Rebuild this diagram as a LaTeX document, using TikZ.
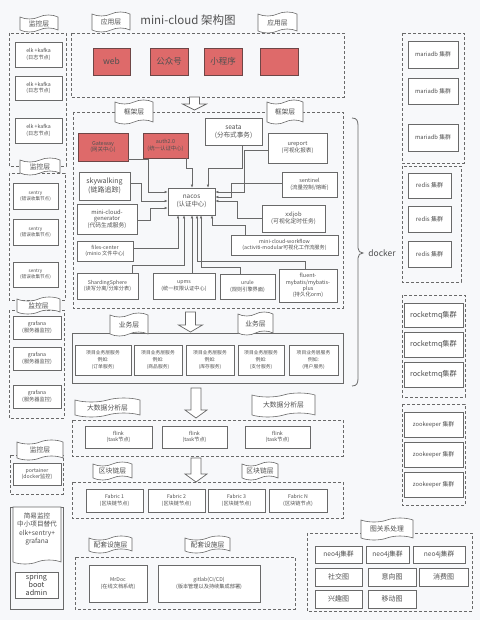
\documentclass[tikz,border=0pt]{standalone}
\usepackage{fontspec}
\setmainfont{Noto Sans CJK SC}
\usetikzlibrary{shapes.symbols,arrows.meta}
\definecolor{bgc}{RGB}{247,248,250}
\definecolor{lc}{RGB}{105,105,105}
\definecolor{tc}{RGB}{80,80,80}
\definecolor{redf}{RGB}{222,106,106}
\definecolor{redd}{RGB}{110,70,70}
\newcommand\fsz[2]{\fontsize{#1}{#2}\selectfont}
\tikzset{
  box/.style={draw=lc, fill=white, line width=0.6pt, inner sep=0pt, align=center, text=tc, font=\fsz{5.2}{6.4}},
  redbox/.style={box, fill=redf, draw=redd},
  dbox/.style={draw=lc, dash pattern=on 3pt off 2pt, line width=0.8pt},
  sbox/.style={draw=lc, line width=0.8pt},
  conn/.style={draw=lc, line width=0.6pt, -{Latex[length=3pt,width=2.6pt]}},
  flag/.style={tape, draw=lc, fill=white, line width=0.6pt, tape bend top=in and out, tape bend bottom=in and out, tape bend height=4pt, inner sep=0pt, align=center, font=\fsz{6.8}{8}, text=tc},
  harrow/.style={draw=lc, fill=white, line width=0.7pt},
}
% [style]{x1}{y1}{x2}{y2}{name}{text}
\newcommand\bx[7][]{\node[box,#1,minimum width=#4pt-#2pt,minimum height=#5pt-#3pt] (#6) at ({(#2+#4)/2},{(#3+#5)/2}) {#7};}
\newcommand\fl[7][]{\node[flag,#1,minimum width=#4pt-#2pt,minimum height=#5pt-#3pt] (#6) at ({(#2+#4)/2},{(#3+#5)/2}) {};\node[text=tc,font=\fsz{6.8}{8}] (#6t) at (#6.center) {#7};}
% {cx}{ytop}{ybot}{shaft half}{head half}{head len}
\newcommand\harr[6]{\draw[harrow] (#1-#4,#2) -- (#1+#4,#2) -- (#1+#4,#3-#6) -- (#1+#5,#3-#6) -- (#1,#3) -- (#1-#5,#3-#6) -- (#1-#4,#3-#6) -- cycle;}
\begin{document}
\begin{tikzpicture}[x=1pt,y=-1pt]
\useasboundingbox (0,0) rectangle (480,620);
\fill[bgc] (0,0) rectangle (480,620);

% ---------- title
\node[text=tc,font=\fsz{11.5}{13}] (title) at (188,20) {mini-cloud 架构图};

% ---------- left monitoring column
\draw[dbox] (9,33) rectangle (66,166);
\draw[dbox] (9,173) rectangle (65,300);
\draw[dbox] (9,310) rectangle (64,418);
\draw[dbox] (10,455) rectangle (63,494);
\draw[sbox] (10,507) rectangle (63,609);
\bx{15}{42}{62}{67}{elk1}{elk +kafka\\(日志节点)}
\bx{15}{76}{62}{100}{elk2}{elk +kafka\\(日志节点)}
\bx{15}{118}{62}{143}{elk3}{elk +kafka\\(日志节点)}
\bx[font=\fsz{4.6}{6}]{13}{183}{58}{209}{sen1}{sentry\\(错误收集节点)}
\bx[font=\fsz{4.6}{6}]{13}{219}{58}{245}{sen2}{sentry\\(错误收集节点)}
\bx[font=\fsz{4.6}{6}]{13}{262}{58}{287}{sen3}{sentry\\(错误收集节点)}
\bx{13}{316}{61}{339}{gra1}{grafana\\(服务器监控)}
\bx{13}{347}{61}{370}{gra2}{grafana\\(服务器监控)}
\bx{13}{385}{61}{408}{gra3}{grafana\\(服务器监控)}
\bx{13}{463}{61}{485}{port}{portainer\\(docker监控)}
\node[flag,tape bend top=none,minimum width=48pt,minimum height=57pt] (simple) at (37,533.5) {};
\node[text=tc,align=center,font=\fsz{6.6}{8.2}] (simplet) at (37,529) {简易监控\\中小项目替代\\elk+sentry+\\grafana};
\bx[font=\fsz{7.2}{8.2},text=black!75]{15}{572}{58}{598}{spring}{spring\\boot\\admin}
\fl{20}{15}{58}{32}{fm1}{监控层}
\fl{20}{158}{60}{175}{fm2}{监控层}
\fl{17}{297}{60}{314}{fm3}{监控层}
\fl{17}{440}{63}{460}{fm4}{监控层}

% ---------- application layer
\draw[dbox] (71,33) rectangle (344,97);
\fl{92}{12}{130}{32}{fa1}{应用层}
\fl{258}{12}{297}{33}{fa2}{应用层}
\bx[redbox,font=\fsz{8.5}{10}]{93}{48}{130}{75}{web}{web}
\bx[redbox,font=\fsz{8.5}{10}]{150}{48}{188}{75}{gzh}{公众号}
\bx[redbox,font=\fsz{8.5}{10}]{204}{48}{242}{75}{xcx}{小程序}
\bx[redbox,font=\fsz{8.5}{10}]{260}{48}{298}{75}{app}{}
\harr{194.5}{97}{110}{5}{12}{6}

% ---------- framework layer
\draw[dbox] (73,112) rectangle (343,308);
\fl{115}{100}{153}{124}{ff1}{框架层}
\fl{267}{100}{303}{124}{ff2}{框架层}
\bx[redbox,font=\fsz{5.4}{6.6}]{78}{133}{128}{161}{gw}{Gateway\\(网关中心)}
\bx[redbox,font=\fsz{5.4}{6.6}]{143}{133}{188}{158}{auth}{auth2.0\\(统一认证中心)}
\bx[font=\fsz{6.6}{8}]{205}{118}{262}{145}{seata}{seata\\(分布式事务)}
\bx[font=\fsz{5.6}{7}]{268}{133}{327}{163}{urep}{ureport\\(可视化报表)}
\bx[font=\fsz{7}{8.4}]{79}{172}{130}{200}{sky}{skywalking\\(链路追踪)}
\bx[font=\fsz{6.4}{7.8}]{168}{188}{215}{215}{nacos}{nacos\\(认证中心)}
\bx[font=\fsz{5.4}{6.6}]{282}{172}{337}{197}{sent}{sentinel\\(流量控制/熔断)}
\bx[font=\fsz{5.8}{6.6}]{77}{204}{137}{234}{gen}{mini-cloud-\\generator\\(代码生成服务)}
\bx[font=\fsz{5.8}{7}]{262}{205}{325}{232}{xxl}{xxljob\\(可视化定时任务)}
\bx{77}{241}{133}{261}{files}{files-center\\(minio 文件中心)}
\bx{231}{235}{338}{255}{wf}{mini-cloud-workflow\\(activiti-modular可视化工作流服务)}
\bx{77}{273}{138}{299}{shard}{ShardingSphere\\(读写分离/分库分表)}
\bx{153}{273}{215}{299}{upms}{upms\\(统一权限认证中心)}
\bx{220}{274}{275}{299}{urule}{urule\\(规则引擎界面)}
\bx[font=\fsz{5.4}{6.3}]{279}{269}{337}{302}{fluent}{fluent-\\mybatis/mybatis-\\plus\\(持久化orm)}

% connectors into nacos
\draw[conn] (gw.east |- 0,159) -| (148,192) -- (nacos.west |- 0,192);
\draw[conn] (sky.east |- 0,183) -| (141,201) -- (nacos.west |- 0,201);
\draw[conn] (gen.east |- 0,220) -| (150,208) -- (nacos.west |- 0,208);
\draw[conn] (auth.south -| 186,0) |- (192,168) -- (nacos.north -| 192,0);
\draw[conn] (seata.south -| 242,0) |- (208,168) -- (nacos.north -| 208,0);
\draw[conn] (urep.west |- 0,150) -| (244,192) -- (nacos.east |- 0,192);
\draw[conn] (sent.west |- 0,183) -| (231,197) -- (nacos.east |- 0,197);
\draw[conn] (xxl.west |- 0,218) -| (237,201) -- (nacos.east |- 0,201);
\draw[conn] (files.east |- 0,248) -| (nacos.south -| 178,0);
\draw[conn] (shard.north -| 132,0) |- (184,265) -- (nacos.south -| 184,0);
\draw[conn] (upms.north -| 192,0) -- (nacos.south -| 192,0);
\draw[conn] (fluent.north -| 305,0) |- (197,261) -- (nacos.south -| 197,0);
\draw[conn] (urule.north -| 240,0) |- (201,267) -- (nacos.south -| 201,0);
\draw[conn] (wf.north -| 245,0) |- (212,225) -- (nacos.south -| 212,0);

% docker brace
\draw[lc,line width=0.8pt] (352,118) .. controls (357,118) and (358,121) .. (358,126) -- (358,248) .. controls (358,251) and (360,253) .. (363,253) .. controls (360,253) and (358,255) .. (358,258) -- (358,378) .. controls (358,383) and (357,386) .. (352,386);
\node[text=tc,font=\fsz{8.5}{10}] (docker) at (382,253) {docker};

% ---------- business layer
\harr{190.5}{312}{332}{5}{12}{7}
\draw[sbox] (72,333) rectangle (343,383);
\fl{110}{313}{148}{336}{fb1}{业务层}
\fl{238}{312}{273}{335}{fb2}{业务层}
\bx[font=\fsz{4.8}{6.8}]{75}{345}{131}{375}{biz1}{项目业务层服务\\例如:\\(订单服务)}
\bx[font=\fsz{4.8}{6.8}]{134}{345}{182}{375}{biz2}{项目业务层服务\\例如:\\(商品服务)}
\bx[font=\fsz{4.8}{6.8}]{186}{345}{234}{375}{biz3}{项目业务层服务\\例如:\\(库存服务)}
\bx[font=\fsz{4.8}{6.8}]{238}{345}{284}{375}{biz4}{项目业务层服务\\例如:\\(支付服务)}
\bx[font=\fsz{4.8}{6.8}]{289}{345}{338}{375}{biz5}{项目业务层服务\\例如:\\(用户服务)}

% ---------- big data layer
\harr{196}{388}{418}{5}{11}{8}
\draw[dbox] (72,420) rectangle (343,456);
\fl{75}{398}{140}{417}{fd1}{大数据分析层}
\fl{252}{393}{315}{417}{fd2}{大数据分析层}
\bx{85}{426}{152}{448}{fl1}{flink\\(task节点)}
\bx{162}{426}{227}{448}{fl2}{flink\\(task节点)}
\bx{245}{426}{310}{448}{fl3}{flink\\(task节点)}

% ---------- blockchain layer
\harr{196}{458}{482}{5}{11}{8}
\draw[dbox] (72,482) rectangle (343,518);
\fl{93}{462}{132}{480}{fc1}{区块链层}
\fl{242}{462}{278}{480}{fc2}{区块链层}
\bx{86}{489}{143}{512}{fab1}{Fabric 1\\(区块链节点)}
\bx{148}{489}{205}{512}{fab2}{Fabric 2\\(区块链节点)}
\bx{208}{489}{265}{512}{fab3}{Fabric 3\\(区块链节点)}
\bx{269}{489}{327}{512}{fab4}{Fabric N\\(区块链节点)}

% ---------- support layer
\draw[dbox] (75,557) rectangle (295,609);
\fl{89}{536}{132}{553}{fs1}{配套设施层}
\fl{185}{536}{230}{553}{fs2}{配套设施层}
\bx{89}{565}{147}{602}{mrdoc}{MrDoc\\(在线文档系统)}
\bx{158}{565}{260}{602}{gitlab}{gitlab(CI/CD)\\(版本管理以及持续集成部署)}

% ---------- right column
\draw[dbox] (402,33) rectangle (464,163);
\bx[font=\fsz{5.8}{7}]{408}{41}{458}{68}{ma1}{mariadb 集群}
\bx[font=\fsz{5.8}{7}]{408}{78}{458}{104}{ma2}{mariadb 集群}
\bx[font=\fsz{5.8}{7}]{408}{124}{458}{151}{ma3}{mariadb 集群}
\draw[dbox] (402,166) rectangle (461,282);
\bx[font=\fsz{6}{7}]{408}{173}{451}{198}{re1}{redis 集群}
\bx[font=\fsz{6}{7}]{408}{206}{451}{232}{re2}{redis 集群}
\bx[font=\fsz{6}{7}]{408}{241}{451}{267}{re3}{redis 集群}
\draw[dbox] (402,295) rectangle (465,397);
\bx[font=\fsz{7.2}{8}]{404}{303}{463}{327}{rm1}{rocketmq集群}
\bx[font=\fsz{7.2}{8}]{404}{332}{463}{357}{rm2}{rocketmq集群}
\bx[font=\fsz{7.2}{8}]{404}{362}{463}{387}{rm3}{rocketmq集群}
\draw[dbox] (402,404) rectangle (465,505);
\bx[font=\fsz{5.8}{7}]{404}{412}{463}{437}{zk1}{zookeeper 集群}
\bx[font=\fsz{5.8}{7}]{404}{442}{463}{467}{zk2}{zookeeper 集群}
\bx[font=\fsz{5.8}{7}]{404}{472}{463}{497}{zk3}{zookeeper 集群}

% ---------- graph layer
\draw[dbox] (307,533) rectangle (472,611);
\fl{361}{518}{413}{540}{fg}{图关系处理}
\bx[font=\fsz{6.6}{8}]{315}{546}{362}{563}{neo1}{neo4j集群}
\bx[font=\fsz{6.6}{8}]{366}{546}{409}{563}{neo2}{neo4j集群}
\bx[font=\fsz{6.6}{8}]{413}{546}{465}{563}{neo3}{neo4j集群}
\bx[font=\fsz{7}{8}]{315}{568}{362}{586}{g1}{社交图}
\bx[font=\fsz{7}{8}]{368}{568}{416}{586}{g2}{意向图}
\bx[font=\fsz{7}{8}]{419}{568}{468}{586}{g3}{消费图}
\bx[font=\fsz{7}{8}]{315}{590}{362}{608}{g4}{兴趣图}
\bx[font=\fsz{7}{8}]{368}{590}{416}{608}{g5}{移动图}
\end{tikzpicture}
\end{document}
